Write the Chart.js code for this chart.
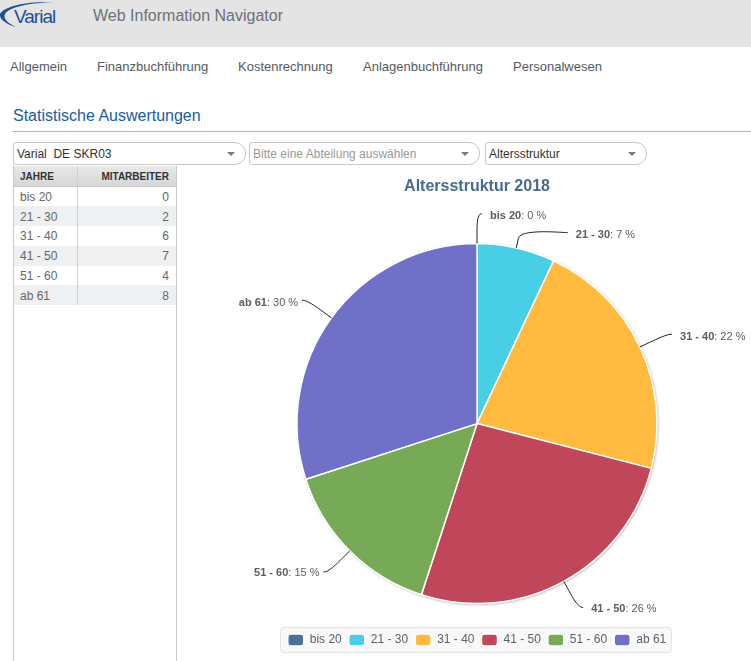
<!DOCTYPE html>
<html>
<head>
<meta charset="utf-8">
<title>Altersstruktur</title>
<script src="https://cdn.jsdelivr.net/npm/chart.js@4/dist/chart.umd.min.js"></script>
<style>
  html, body { margin: 0; padding: 0; background: #fff; }
  body { width: 751px; height: 661px; position: relative; overflow: hidden; font-family: "Liberation Sans", Arial, sans-serif; }
  #head { position: absolute; left: 0; top: 0; width: 751px; height: 47px; background: #e4e4e4; }
  #brand { position: absolute; left: 93px; top: 7px; font-size: 16px; color: #6c717a; }
  #logo { position: absolute; left: 0; top: 0; }
  #nav span { position: absolute; top: 59px; font-size: 13px; color: #55595f; white-space: nowrap; }
  #heading { position: absolute; left: 13px; top: 107px; font-size: 16px; color: #1a5ca0; }
  #rule { position: absolute; left: 13px; top: 131px; width: 738px; height: 1px; background: #b4b4b4; }
  .sel { position: absolute; top: 142px; height: 21px; border: 1px solid #c8c8c8; border-radius: 3px 11px 11px 3px; font-size: 12px; line-height: 22px; padding-left: 3px; box-sizing: content-box; color: #333; white-space: nowrap; }
  .sel.ph { color: #999; }
  .sel i { position: absolute; right: 10px; top: 9px; width: 0; height: 0; border-left: 4px solid transparent; border-right: 4px solid transparent; border-top: 4px solid #777; }
  #tableBox { position: absolute; left: 13px; top: 166px; width: 162px; height: 495px; border-left: 1px solid #c8c8c8; border-right: 1px solid #c8c8c8; }
  #tbl { border-collapse: collapse; width: 162px; table-layout: fixed; font-size: 12px; color: #666; }
  #tbl th { height: 20px; padding: 0 7px 0 6px; font-size: 10px; color: #333; background: linear-gradient(#e8e8e8, #d4d6d8); border-bottom: 1px solid #c8c8c8; }
  #tbl th:first-child, #tbl td:first-child { text-align: left; width: 63px; box-sizing: border-box; border-right: 1px solid #d0d0d0; }
  #tbl th:last-child, #tbl td:last-child { text-align: right; }
  #tbl td { height: 19.8px; padding: 1px 7px 0 6px; box-sizing: border-box; }
  #tbl tr:nth-child(even) td { background: #eef0f2; }
  #pie { position: absolute; left: 178px; top: 170px; }
</style>
</head>
<body>
<div id="head">
  <svg id="logo" width="70" height="40">
    <path d="M56 3 C30 0 4 6 0 14 C-1 20 8 25 16 27 C8 23 3 19 5 14 C9 7 32 2 56 3 Z" fill="#1b4f96"/>
    <text x="14" y="23" font-family="Liberation Sans" font-size="19" letter-spacing="-1" fill="#1b4f96">Varial</text>
  </svg>
  <div id="brand">Web Information Navigator</div>
</div>
<div id="nav">
  <span style="left:10px">Allgemein</span>
  <span style="left:97px">Finanzbuchführung</span>
  <span style="left:238px">Kostenrechnung</span>
  <span style="left:363px">Anlagenbuchführung</span>
  <span style="left:513px">Personalwesen</span>
</div>
<div id="heading">Statistische Auswertungen</div>
<div id="rule"></div>
<div class="sel" style="left:13px;width:228px">Varial&nbsp; DE SKR03<i></i></div>
<div class="sel ph" style="left:249px;width:226px">Bitte eine Abteilung auswählen<i></i></div>
<div class="sel" style="left:485px;width:157px">Altersstruktur<i></i></div>
<div id="tableBox">
  <table id="tbl"><thead><tr><th>JAHRE</th><th>MITARBEITER</th></tr></thead><tbody id="rows"></tbody></table>
</div>
<canvas id="pie" width="573" height="491"></canvas>
<script>
const categories = ['bis 20', '21 - 30', '31 - 40', '41 - 50', '51 - 60', 'ab 61'];
const employees = [0, 2, 6, 7, 4, 8];
const percents = [0, 7, 22, 26, 15, 30];
const colors = ['#4a7098', '#48cfe6', '#ffba3f', '#c0475a', '#77aa57', '#7070c8'];

const rows = document.getElementById('rows');
categories.forEach(function(c, i) {
    const tr = document.createElement('tr');
    tr.innerHTML = '<td>' + c + '</td><td>' + employees[i] + '</td>';
    rows.appendChild(tr);
});

// soft shadow under the whole pie
const pieShadow = {
    id: 'pieShadow',
    beforeDatasetsDraw(chart) {
        const arc = chart.getDatasetMeta(0).data[0];
        const ctx = chart.ctx;
        ctx.save();
        ctx.shadowColor = 'rgba(0,0,0,0.35)';
        ctx.shadowBlur = 3;
        ctx.shadowOffsetX = 1;
        ctx.shadowOffsetY = 1;
        ctx.fillStyle = '#fff';
        ctx.beginPath();
        ctx.arc(arc.x, arc.y, arc.outerRadius, 0, Math.PI * 2);
        ctx.fill();
        ctx.restore();
    }
};

// frame behind the legend, fitted to its items
const legendFrame = {
    id: 'legendFrame',
    beforeDraw(chart) {
        const boxes = chart.legend.legendHitBoxes;
        const last = boxes[boxes.length - 1];
        const x0 = boxes[0].left - 8;
        const x1 = last.left + last.width + 5;
        const y0 = last.top - 7;
        const y1 = last.top + last.height + 6;
        const ctx = chart.ctx;
        ctx.save();
        ctx.fillStyle = '#f9f9f9';
        ctx.strokeStyle = '#e4e4e4';
        ctx.beginPath();
        ctx.roundRect(Math.round(x0) + 0.5, Math.round(y0) + 0.5, Math.round(x1 - x0), Math.round(y1 - y0), 3);
        ctx.fill();
        ctx.stroke();
        ctx.restore();
    }
};

// slice labels with curved connectors
const labelDistance = 30;
const labelShift = { 1: { x: 40, y: 14 } };
const sliceLabels = {
    id: 'sliceLabels',
    afterDatasetsDraw(chart) {
        const ctx = chart.ctx;
        chart.getDatasetMeta(0).data.forEach(function(arc, i) {
            const mid = (arc.startAngle + arc.endAngle) / 2;
            const cos = Math.cos(mid), sin = Math.sin(mid), r = arc.outerRadius;
            const shift = labelShift[i] || { x: 0, y: 0 };
            const ax = arc.x + (r + labelDistance) * cos + shift.x;
            const ay = arc.y + (r + labelDistance) * sin + shift.y;
            const x2 = arc.x + (r + 10) * cos, y2 = arc.y + (r + 10) * sin;
            const x3 = arc.x + r * cos, y3 = arc.y + r * sin;
            const right = cos >= -0.001;
            const dir = right ? 1 : -1;

            ctx.save();
            ctx.strokeStyle = '#222';
            ctx.lineWidth = 1;
            ctx.beginPath();
            ctx.moveTo(ax + dir * 5, ay);
            ctx.bezierCurveTo(ax, ay, 2 * x2 - x3, 2 * y2 - y3, x2, y2);
            ctx.lineTo(x3, y3);
            ctx.stroke();

            const name = categories[i];
            const rest = ': ' + percents[i] + ' %';
            const ty = ay + (sin < 0 ? 2.5 : 1);
            ctx.textBaseline = 'middle';
            ctx.textAlign = 'left';
            ctx.fillStyle = '#5c5c5c';
            ctx.font = 'bold 11px "Liberation Sans"';
            const w1 = ctx.measureText(name).width;
            ctx.font = '11px "Liberation Sans"';
            const w2 = ctx.measureText(rest).width;
            const tx = right ? ax + 13 : ax - 9 - w1 - w2;
            ctx.font = 'bold 11px "Liberation Sans"';
            ctx.fillText(name, tx, ty);
            ctx.font = '11px "Liberation Sans"';
            ctx.fillText(rest, tx + w1, ty);
            ctx.restore();
        });
    }
};

new Chart(document.getElementById('pie').getContext('2d'), {
    type: 'pie',
    data: {
        labels: categories,
        datasets: [{
            data: percents,
            backgroundColor: colors,
            borderColor: '#fff',
            borderWidth: 1.5,
            radius: 180
        }]
    },
    options: {
        responsive: false,
        animation: false,
        layout: { padding: { left: 25, right: 0, top: 7, bottom: 5 } },
        plugins: {
            title: {
                display: true,
                text: 'Altersstruktur 2018',
                color: '#4a6a90',
                font: { family: '"Liberation Sans"', size: 16, weight: 'bold' },
                padding: { top: 0, bottom: 24 }
            },
            legend: {
                position: 'bottom',
                labels: {
                    boxWidth: 16,
                    boxHeight: 12,
                    useBorderRadius: true,
                    borderRadius: 3,
                    padding: 7,
                    color: '#5a6270',
                    font: { family: '"Liberation Sans"', size: 12 }
                }
            },
            tooltip: { enabled: false }
        }
    },
    plugins: [legendFrame, pieShadow, sliceLabels]
});
</script>
</body>
</html>
